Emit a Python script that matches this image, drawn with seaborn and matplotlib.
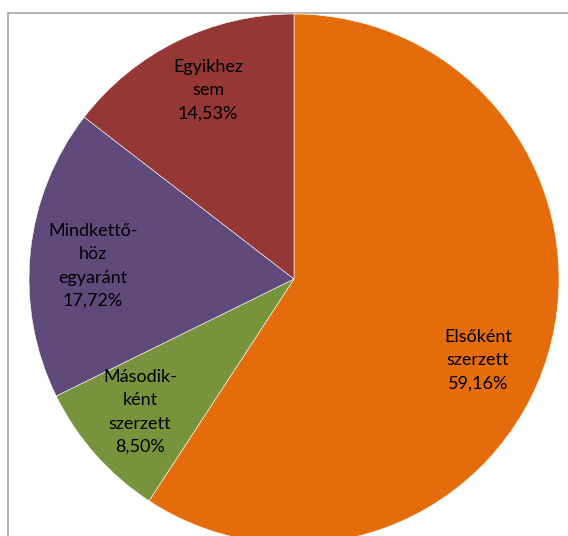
import matplotlib
matplotlib.use("Agg")
import matplotlib.pyplot as plt
from matplotlib.patches import Rectangle
import seaborn as sns

labels = ["Elsőként\nszerzett", "Második-\nként\nszerzett", "Mindkettő-\nhöz\negyaránt", "Egyikhez\nsem"]
shares = [59.16, 8.50, 17.72, 14.53]
colors = ["#E46C0A", "#77933C", "#604A7B", "#953735"]

sns.set_theme(style="white")
plt.rcParams['font.family'] = ['Lato', 'DejaVu Sans']

fig = plt.figure(figsize=(5.68, 5.36), dpi=100)
ax = fig.add_axes([0, 0, 1, 1])

# grey chart frame (cut off at right and bottom)
ax.add_patch(Rectangle((8, -50), 620, 573, fill=False, edgecolor="#A6A6A6", linewidth=1.2))

ax.pie(shares, colors=colors, startangle=90, counterclock=False,
       center=(294, 257), radius=265, frame=True,
       wedgeprops=dict(edgecolor="white", linewidth=0.4))
ax.set_xlim(0, 568)
ax.set_ylim(0, 536)
ax.set_aspect('equal')
ax.axis('off')

label_pos = [(478, 176), (140, 124), (93, 270), (208, 446)]
for lab, val, (x, y) in zip(labels, shares, label_pos):
    txt = lab + "\n" + f"{val:.2f}".replace(".", ",") + "%"
    ax.text(x, y, txt, ha="center", va="center", fontsize=13,
            color="black", linespacing=1.55)

fig.savefig("out.png", dpi=100)
